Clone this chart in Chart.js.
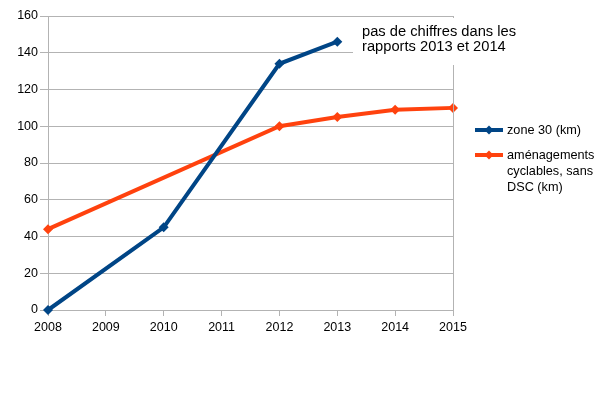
<!DOCTYPE html>
<html>
<head>
<meta charset="utf-8">
<script src="https://cdn.jsdelivr.net/npm/chart.js@4/dist/chart.umd.min.js"></script>
<style>
html,body{margin:0;padding:0;background:#fff;}
#wrap{width:605px;height:396px;position:relative;}
</style>
</head>
<body>
<div id="wrap"><canvas id="c" width="605" height="396"></canvas></div>
<script>
const years = ['2008','2009','2010','2011','2012','2013','2014','2015'];
const zone30 = [0, null, 45, null, 134, 146, null, null];
const amenagements = [44, null, null, null, 100, 105, 109, 110];
const yTicks = [0, 20, 40, 60, 80, 100, 120, 140, 160];
const seriesNames = ['zone 30 (km)', ['aménagements', 'cyclables, sans', 'DSC (km)']];
const noteLines = ['pas de chiffres dans les', 'rapports 2013 et 2014'];

const BLUE = '#004586', ORANGE = '#ff420e', GRID = '#b3b3b3';
const FONT = '"Liberation Sans", Arial, sans-serif';

function diamond(ctx, x, y, r, color) {
  ctx.fillStyle = color;
  ctx.beginPath();
  ctx.moveTo(x, y - r); ctx.lineTo(x + r, y); ctx.lineTo(x, y + r); ctx.lineTo(x - r, y);
  ctx.closePath(); ctx.fill();
}

const extras = {
  id: 'extras',
  afterDraw(chart) {
    const ctx = chart.ctx, a = chart.chartArea;
    ctx.save();
    ctx.strokeStyle = GRID; ctx.lineWidth = 1;
    ctx.beginPath(); ctx.moveTo(Math.round(a.right) + 0.5, a.top); ctx.lineTo(Math.round(a.right) + 0.5, a.bottom + 5); ctx.stroke();
    ctx.fillStyle = '#fff';
    ctx.fillRect(353, 18, 175, 47);
    ctx.fillStyle = '#000';
    ctx.font = '14.7px ' + FONT;
    ctx.textBaseline = 'middle';
    ctx.fillText(noteLines[0], 362, 32);
    ctx.fillText(noteLines[1], 362, 47);
    ctx.font = '12.7px ' + FONT;
    ctx.lineWidth = 4;
    ctx.strokeStyle = BLUE;
    ctx.beginPath(); ctx.moveTo(475, 130); ctx.lineTo(503, 130); ctx.stroke();
    diamond(ctx, 489, 130, 4.5, BLUE);
    ctx.fillStyle = '#000';
    ctx.fillText(seriesNames[0], 507, 130);
    ctx.strokeStyle = ORANGE;
    ctx.beginPath(); ctx.moveTo(475, 155); ctx.lineTo(503, 155); ctx.stroke();
    diamond(ctx, 489, 155, 4.5, ORANGE);
    ctx.fillStyle = '#000';
    seriesNames[1].forEach((t, i) => ctx.fillText(t, 507, 155 + i * 16));
    ctx.restore();
  }
};

new Chart(document.getElementById('c'), {
  type: 'line',
  data: {
    labels: years,
    datasets: [
      { label: 'zone 30 (km)', data: zone30, borderColor: BLUE, backgroundColor: BLUE,
        borderWidth: 4, pointStyle: 'rectRot', pointRadius: 5, pointBorderWidth: 0, pointHoverRadius: 5, spanGaps: true, tension: 0, clip: false },
      { label: 'aménagements cyclables, sans DSC (km)', data: amenagements, borderColor: ORANGE, backgroundColor: ORANGE,
        borderWidth: 4, pointStyle: 'rectRot', pointRadius: 5, pointBorderWidth: 0, pointHoverRadius: 5, spanGaps: true, tension: 0, clip: false }
    ]
  },
  options: {
    responsive: false,
    animation: false,
    layout: { padding: { top: 16, right: 152, left: 0, bottom: 0 } },
    plugins: { legend: { display: false }, tooltip: { enabled: false } },
    scales: {
      x: {
        offset: false,
        grid: { drawOnChartArea: false, drawTicks: true, tickLength: 6, color: GRID },
        border: { color: GRID },
        ticks: { color: '#000', font: { family: FONT, size: 12.5 }, padding: 4, maxRotation: 0, autoSkip: false },
        afterFit(s) { s.height = 86; }
      },
      y: {
        min: 0, max: 160,
        afterBuildTicks(s) { s.ticks = yTicks.map(v => ({ value: v })); },
        grid: { color: GRID, drawTicks: true, tickLength: 8 },
        border: { color: GRID },
        ticks: { color: '#000', font: { family: FONT, size: 12.5 }, padding: 2 },
        afterFit(s) { s.width = 48; }
      }
    }
  },
  plugins: [extras]
});
</script>
</body>
</html>
